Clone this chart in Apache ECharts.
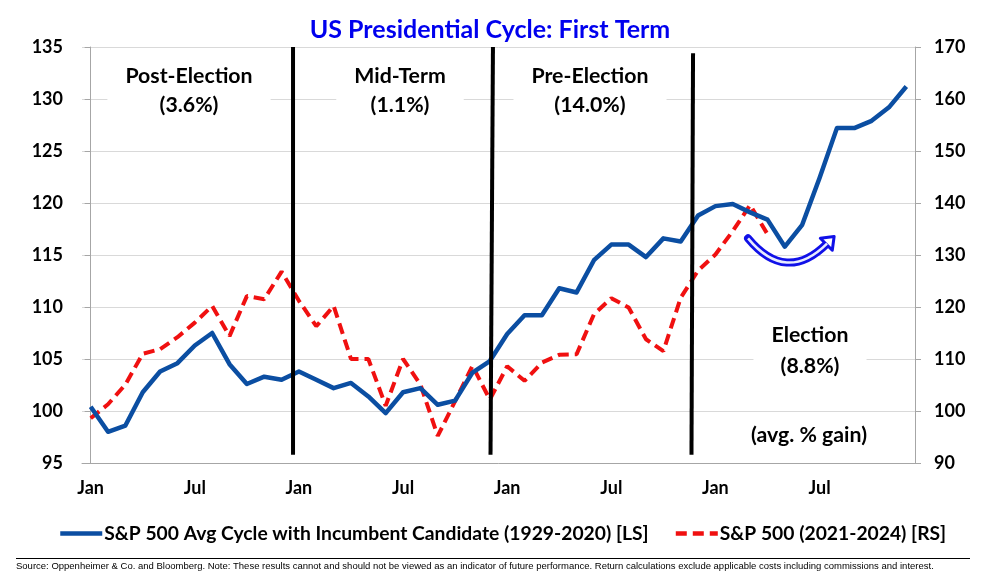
<!DOCTYPE html>
<html>
<head>
<meta charset="utf-8">
<script src="https://cdn.jsdelivr.net/npm/echarts@6/dist/echarts.min.js"></script>
<style>html,body{margin:0;padding:0;background:#fff;}#c{width:1000px;height:586px;}</style>
</head>
<body>
<div id="c"></div>
<script>
// ---- data ----
const monthNames = ['Jan','Feb','Mar','Apr','May','Jun','Jul','Aug','Sep','Oct','Nov','Dec'];
const categories = [].concat(monthNames, monthNames, monthNames, monthNames);
const avgCycle = [100.4, 98.0, 98.6, 101.8, 103.8, 104.6, 106.3, 107.5, 104.5, 102.6, 103.3, 103.0,
                  103.8, 103.0, 102.2, 102.7, 101.4, 99.8, 101.8, 102.2, 100.6, 101.0, 103.7, 104.8,
                  107.4, 109.2, 109.2, 111.8, 111.4, 114.5, 116.0, 116.0, 114.8, 116.6, 116.3, 118.8,
                  119.7, 119.9, 119.1, 118.4, 115.8, 117.9, 122.4, 127.2, 127.2, 127.9, 129.2, 131.2];
const sp2124 = [98.6, 101.3, 105.1, 111.0, 111.9, 114.2, 117.0, 120.2, 114.4, 122.1, 121.5, 126.8,
                121.2, 116.3, 120.2, 110.0, 110.0, 101.0, 110.0, 105.1, 95.2, 101.9, 108.7, 102.2,
                108.6, 105.8, 109.3, 110.8, 110.9, 118.6, 121.7, 119.9, 113.8, 111.5, 121.8, 127.0,
                130.1, 134.6, 139.6, 134.0];
const leftTicks = {min: 95, max: 135, interval: 5};
const rightTicks = {min: 90, max: 170, interval: 10};
// phase dividers: [x top, x bottom, y top, y bottom] in (month index, left-axis value)
const dividers = [[11.66, 11.66, 135, 95.8], [23.18, 23.04, 135, 95.8], [34.71, 34.62, 134.4, 95.8]];
// curved arrow: start, control, end in (month index, left-axis value)
const arrow = [[37.88, 116.6, 40.07, 112.2, 42.43, 116.1]];
const seriesNames = ['S&P 500 Avg Cycle with Incumbent Candidate (1929-2020) [LS]', 'S&P 500 (2021-2024) [RS]'];

const FONT = 'Lato, "Open Sans", sans-serif';
const BLUE = '#0B4EA2';
const RED = '#F01010';

const chart = echarts.init(document.getElementById('c'), null, {renderer: 'canvas'});
const axisLab = {fontFamily: FONT, fontWeight: 'bold', fontSize: 18, color: '#000'};
const regionText = (x, y, txt, lh) => ({
  type: 'text', x: x, y: y, z: 100,
  style: {text: txt, fontFamily: FONT, fontWeight: 'bold', fontSize: 21.3, fill: '#000',
          align: 'center', verticalAlign: 'middle', lineHeight: lh || 29,
          backgroundColor: '#fff', padding: [0, 18]}
});

chart.setOption({
  animation: false,
  grid: {left: 82, right: 85, top: 47, bottom: 123},
  xAxis: [{
    type: 'category', data: categories, boundaryGap: true,
    axisLine: {lineStyle: {color: '#A6A6A6', width: 1}},
    axisTick: {interval: 5, length: 5, lineStyle: {color: '#A6A6A6'}},
    axisLabel: Object.assign({interval: 5, margin: 16}, axisLab),
    splitLine: {show: false}
  }, {
    type: 'value', min: -0.5, max: 47.5, show: false, position: 'top'
  }],
  yAxis: [{
    type: 'value', min: leftTicks.min, max: leftTicks.max, interval: leftTicks.interval,
    axisLine: {show: true, lineStyle: {color: '#A6A6A6'}},
    axisTick: {show: true, length: 6, lineStyle: {color: '#A6A6A6'}},
    axisLabel: Object.assign({margin: 19}, axisLab),
    splitLine: {lineStyle: {color: '#D9D9D9', width: 1}}
  }, {
    type: 'value', min: rightTicks.min, max: rightTicks.max, interval: rightTicks.interval,
    position: 'right',
    axisLine: {show: true, lineStyle: {color: '#A6A6A6'}},
    axisTick: {show: true, length: 6, lineStyle: {color: '#A6A6A6'}},
    axisLabel: Object.assign({margin: 19}, axisLab),
    splitLine: {show: false}
  }],
  legend: {
    left: 53, top: 519, itemWidth: 42, itemHeight: 14, itemGap: 25,
    itemStyle: {opacity: 0},
    lineStyle: {width: 4.5},
    textStyle: {fontFamily: FONT, fontWeight: 'bold', fontSize: 19.3, color: '#000', padding: [0, 0, 0, -3]},
    data: [{name: seriesNames[0]}, {name: seriesNames[1]}]
  },
  series: [{
    name: seriesNames[0], type: 'line', data: avgCycle, xAxisIndex: 0, yAxisIndex: 0,
    symbol: 'none', z: 4,
    lineStyle: {color: BLUE, width: 4.5, join: 'round'}, itemStyle: {color: BLUE}
  }, {
    name: seriesNames[1], type: 'line', data: sp2124, xAxisIndex: 0, yAxisIndex: 1,
    symbol: 'none', z: 3,
    lineStyle: {color: RED, width: 4, type: [11, 6], cap: 'butt'}, itemStyle: {color: RED}
  }, {
    type: 'custom', xAxisIndex: 1, yAxisIndex: 0, data: dividers, silent: true, z: 6,
    encode: {x: [0, 1], y: [2, 3]},
    renderItem: function (params, api) {
      const p1 = api.coord([api.value(0), api.value(2)]);
      const p2 = api.coord([api.value(1), api.value(3)]);
      return {type: 'line', shape: {x1: p1[0], y1: p1[1], x2: p2[0], y2: p2[1]},
              style: {stroke: '#000', lineWidth: 4}};
    }
  }, {
    type: 'custom', xAxisIndex: 1, yAxisIndex: 0, data: arrow, silent: true, z: 7,
    encode: {x: [0, 2, 4], y: [1, 3, 5]},
    renderItem: function (params, api) {
      const s = api.coord([api.value(0), api.value(1)]);
      const c = api.coord([api.value(2), api.value(3)]);
      const e = api.coord([api.value(4), api.value(5)]);
      let dx = e[0] - c[0], dy = e[1] - c[1];
      const L = Math.sqrt(dx * dx + dy * dy); dx /= L; dy /= L;
      const px = -dy, py = dx;
      const tip = [e[0] + dx * 10, e[1] + dy * 10];
      const b1 = [e[0] + px * 8.5 - dx * 1, e[1] + py * 8.5 - dy * 1];
      const b2 = [e[0] - px * 8.5 - dx * 1, e[1] - py * 8.5 - dy * 1];
      const curve = {x1: s[0], y1: s[1], cpx1: c[0], cpy1: c[1], x2: e[0], y2: e[1]};
      return {type: 'group', children: [
        {type: 'bezierCurve', shape: curve, style: {stroke: '#1010E8', lineWidth: 8, fill: null, lineCap: 'round'}},
        {type: 'polygon', shape: {points: [tip, b1, b2]}, style: {fill: '#fff', stroke: '#1010E8', lineWidth: 3, lineJoin: 'round'}},
        {type: 'bezierCurve', shape: curve, style: {stroke: '#E8ECFF', lineWidth: 2.5, fill: null}}
      ]};
    }
  }],
  graphic: [
    {type: 'text', x: 490, y: 30, style: {text: 'US Presidential Cycle: First Term', fontFamily: FONT,
      fontWeight: 'bold', fontSize: 25, fill: '#0000EE', align: 'center', verticalAlign: 'middle'}},
    regionText(189, 91, 'Post-Election\n(3.6%)'),
    regionText(400, 91, 'Mid-Term\n(1.1%)'),
    regionText(590, 91, 'Pre-Election\n(14.0%)'),
    regionText(810, 351, 'Election\n(8.8%)', 31),
    regionText(809, 435, '(avg. % gain)'),
    {type: 'line', shape: {x1: 16, y1: 558.5, x2: 970, y2: 558.5}, style: {stroke: '#000', lineWidth: 1}},
    {type: 'text', x: 16, y: 566, style: {text: 'Source: Oppenheimer & Co. and Bloomberg. Note: These results cannot and should not be viewed as an indicator of future performance. Return calculations exclude applicable costs including commissions and interest.',
      fontFamily: '"Liberation Sans Narrow", "Liberation Sans", Arial, sans-serif', fontSize: 9.5, fill: '#000',
      align: 'left', verticalAlign: 'middle'}}
  ]
});
</script>
</body>
</html>
